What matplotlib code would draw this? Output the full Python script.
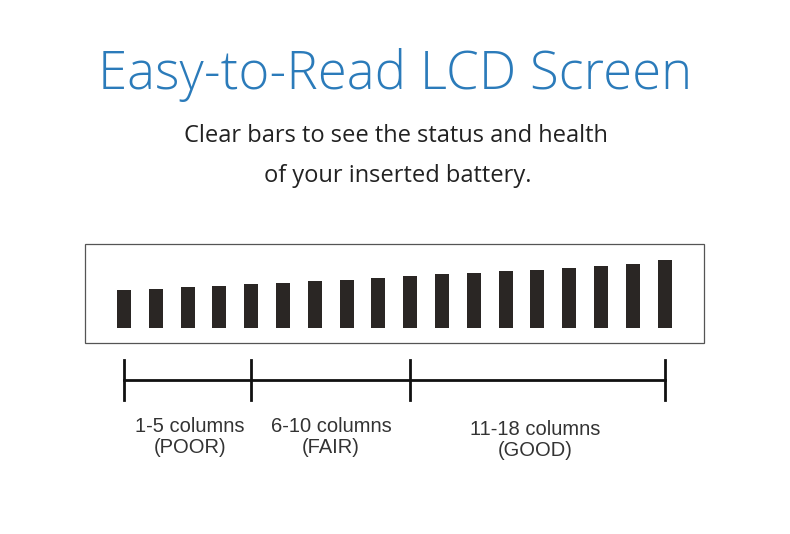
import matplotlib
matplotlib.use("Agg")
import matplotlib.pyplot as plt
from matplotlib.patches import Rectangle

title = "Easy-to-Read LCD Screen"
subtitle = ["Clear bars to see the status and health", "of your inserted battery."]
bar_heights = [38, 39, 41, 42, 44, 45, 47, 48, 50, 52, 54, 55, 57, 58, 60, 62, 64, 68]
boundaries = [124, 251, 410, 665]
labels = [("1-5 columns\n(POOR)", 190), ("6-10 columns\n(FAIR)", 331), ("11-18 columns\n(GOOD)", 535)]

fig = plt.figure(figsize=(7.9, 5.34), dpi=100)
ax = fig.add_axes([0, 0, 1, 1])
ax.set_xlim(0, 790)
ax.set_ylim(534, 0)
ax.axis("off")

ax.text(395, 75, title, ha="center", va="center", fontsize=38, color="#2b7bba",
        family="Open Sans", fontweight="light")
ax.text(396, 136, subtitle[0], ha="center", va="center", fontsize=17, color="#222222", family="Open Sans")
ax.text(398, 176, subtitle[1], ha="center", va="center", fontsize=17, color="#222222", family="Open Sans")

ax.add_patch(Rectangle((85, 244), 619, 99, fill=False, ec="#555555", lw=0.9))
xs = [124 + i * 31.8 for i in range(len(bar_heights))]
ax.bar(xs, [-h for h in bar_heights], bottom=328, width=14, color="#2a2624")

ax.plot([boundaries[0], boundaries[-1]], [380, 380], color="#111111", lw=2)
for b in boundaries:
    ax.plot([b, b], [360, 400], color="#111111", lw=2)
for i, (t, x) in enumerate(labels):
    y = 437 if i < 2 else 440
    ax.text(x, y, t, ha="center", va="center", fontsize=14.5, color="#333333",
            family="Liberation Sans", linespacing=1.1)

fig.savefig("out.png", dpi=100)
